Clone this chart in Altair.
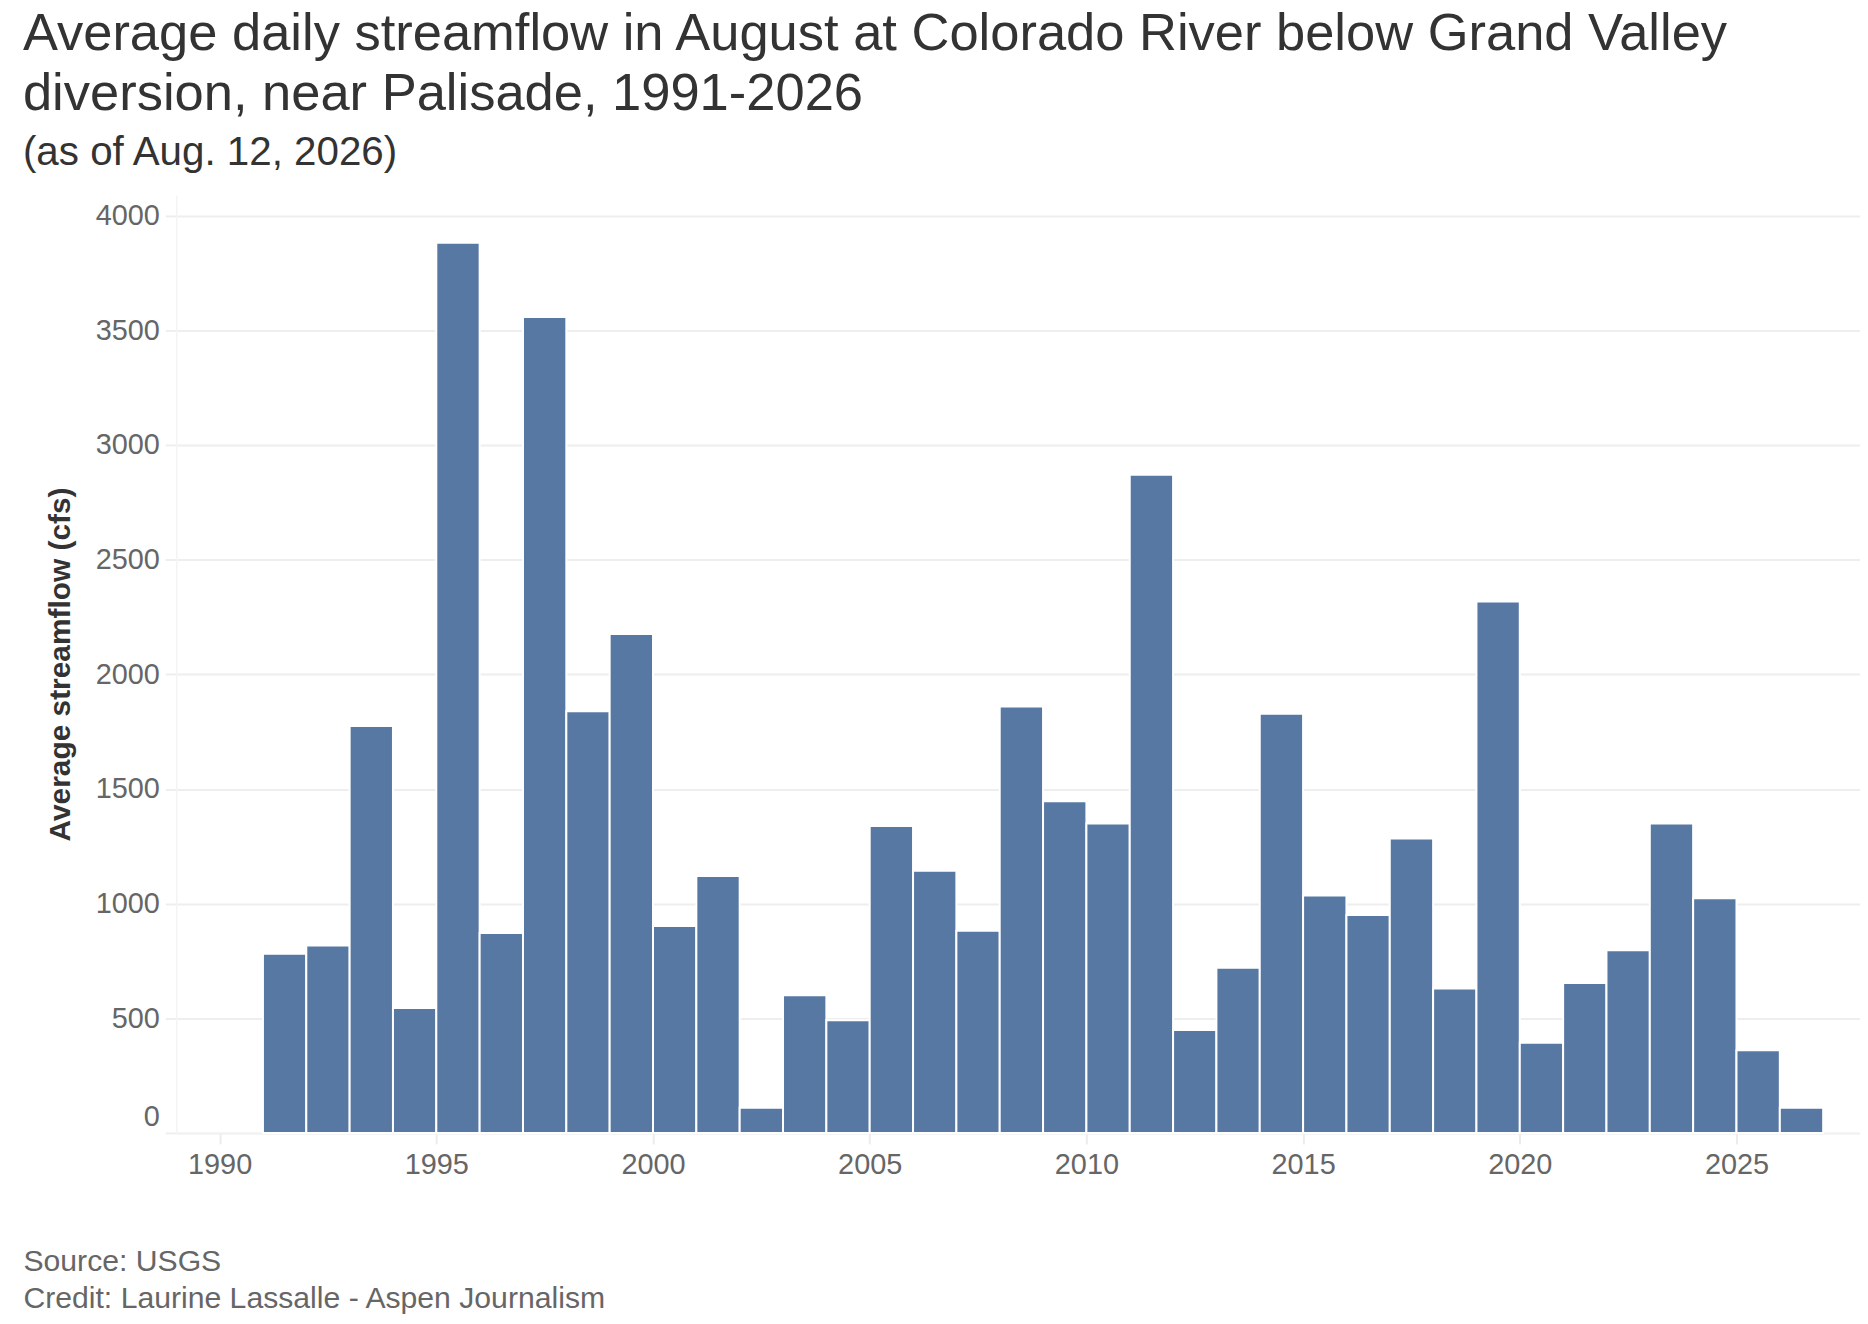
import altair as alt
import pandas as pd

# Data
years = list(range(1991, 2027))
flows = [781, 818, 1775, 545, 3882, 872, 3558, 1839, 2176, 903,
         1121, 110, 600, 492, 1339, 1143, 882, 1860, 1446, 1350,
         2870, 449, 720, 1828, 1036, 951, 1284, 630, 2317, 393,
         654, 797, 1350, 1023, 361, 110]
x_ticks = [1990, 1995, 2000, 2005, 2010, 2015, 2020, 2025]
y_ticks = [0, 500, 1000, 1500, 2000, 2500, 3000, 3500, 4000]

title_lines = ["Average daily streamflow in August at Colorado River below Grand Valley",
               "diversion, near Palisade, 1991-2026"]
subtitle = "(as of Aug. 12, 2026)"
footer = ["Source: USGS", "Credit: Laurine Lassalle - Aspen Journalism"]
y_title = "Average streamflow (cfs)"

FONT = "Liberation Sans"

df = pd.DataFrame({"year": years, "flow": flows})

chart = (
    alt.Chart(df)
    .transform_calculate(year_end="datum.year + 1", base="0")
    .mark_bar(color="#5878a4", stroke="white", strokeWidth=2)
    .encode(
        x=alt.X(
            "year:Q",
            scale=alt.Scale(domain=[1989, 2027.85], nice=False, zero=False),
            axis=alt.Axis(
                values=x_ticks, format="d", grid=False,
                labelFontSize=29, labelColor="#666666", labelFont=FONT,
                labelPadding=7, labelFlush=False,
                tickColor="#ececec", tickSize=11, tickWidth=2,
                domainColor="#f2f2f2", domainWidth=1.5,
                title=footer, titleFont=FONT, titleFontSize=30.3,
                titleFontWeight="normal", titleColor="#666666",
                titleAnchor="start", titleAlign="left", titleBaseline="alphabetic",
                titleX=-154, titleY=138, titleLineHeight=37,
            ),
        ),
        x2="year_end:Q",
        y=alt.Y(
            "flow:Q",
            scale=alt.Scale(domain=[0, 4090], nice=False),
            axis=alt.Axis(
                values=y_ticks, format="d", grid=True,
                gridColor="#eeeeee", gridWidth=2,
                labelFontSize=29, labelColor="#666666", labelFont=FONT,
                labelPadding=6, labelFlush=True, labelFlushOffset=-2,
                tickColor="#eeeeee", tickSize=11, tickWidth=2,
                domainColor="#f4f4f4", domainWidth=1.5,
                title=y_title, titleFont=FONT, titleFontSize=30,
                titleFontWeight="bold", titleColor="#333333", titlePadding=20,
            ),
        ),
        y2="base:Q",
    )
    .properties(
        width=1691,
        height=942,
        title=alt.TitleParams(
            text=title_lines,
            subtitle=subtitle,
            anchor="start", frame="group", dx=-154, offset=22,
            font=FONT, fontSize=52.7, fontWeight="normal", color="#333333", lineHeight=60,
            subtitleFont=FONT, subtitleFontSize=40.5, subtitleColor="#333333",
            subtitlePadding=12,
        ),
        autosize=alt.AutoSizeParams(type="none"),
        padding={"left": 169, "top": 185, "right": 0, "bottom": 185},
        background="white",
    )
    .configure_view(stroke=None)
)

chart.save("out.html", embed_options={"renderer": "svg", "actions": False})
